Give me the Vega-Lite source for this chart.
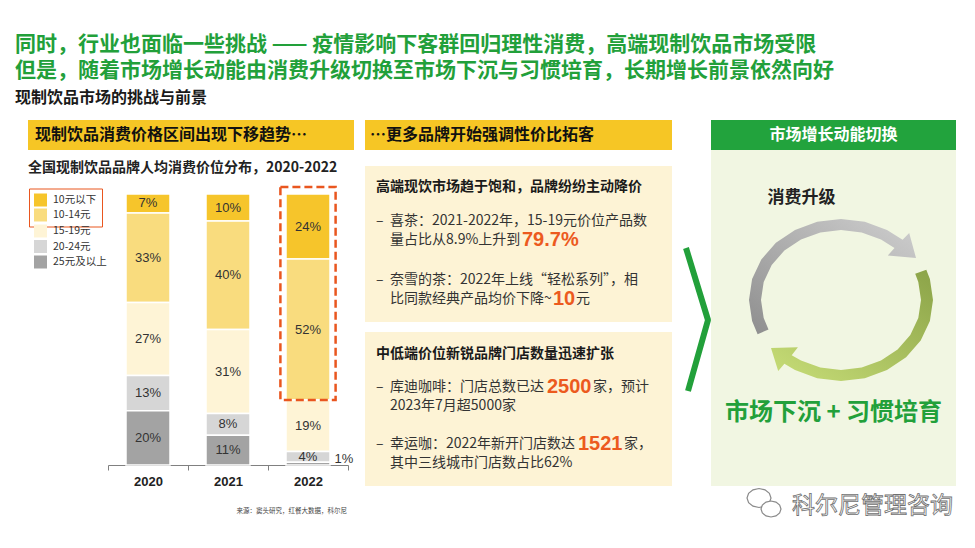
{
  "$schema": "https://vega.github.io/schema/vega-lite/v6.json",
  "background": "white",
  "padding": {"left": 15, "top": 34, "right": 5, "bottom": 5},
  "spacing": 11,
  "title": {
    "text": ["同时，行业也面临一些挑战 —— 疫情影响下客群回归理性消费，高端现制饮品市场受限", "但是，随着市场增长动能由消费升级切换至市场下沉与习惯培育，长期增长前景依然向好"],
    "subtitle": "现制饮品市场的挑战与前景",
    "anchor": "start", "frame": "group", "dx": -13,
    "fontSize": 21, "fontWeight": "bold", "color": "#22A03A", "lineHeight": 26,
    "subtitleFontSize": 16, "subtitleFontWeight": "bold", "subtitleColor": "#1a1a1a", "subtitlePadding": 9,
    "offset": 14
  },
  "datasets": {
    "shares": [
      {"year": "2020", "band": "10元以下", "lo": 0, "pct": 0.07},
      {"year": "2020", "band": "10-14元", "lo": 10, "pct": 0.33},
      {"year": "2020", "band": "15-19元", "lo": 15, "pct": 0.27},
      {"year": "2020", "band": "20-24元", "lo": 20, "pct": 0.13},
      {"year": "2020", "band": "25元及以上", "lo": 25, "pct": 0.20},
      {"year": "2021", "band": "10元以下", "lo": 0, "pct": 0.10},
      {"year": "2021", "band": "10-14元", "lo": 10, "pct": 0.40},
      {"year": "2021", "band": "15-19元", "lo": 15, "pct": 0.31},
      {"year": "2021", "band": "20-24元", "lo": 20, "pct": 0.08},
      {"year": "2021", "band": "25元及以上", "lo": 25, "pct": 0.11},
      {"year": "2022", "band": "10元以下", "lo": 0, "pct": 0.24},
      {"year": "2022", "band": "10-14元", "lo": 10, "pct": 0.52},
      {"year": "2022", "band": "15-19元", "lo": 15, "pct": 0.19},
      {"year": "2022", "band": "20-24元", "lo": 20, "pct": 0.04},
      {"year": "2022", "band": "25元及以上", "lo": 25, "pct": 0.01}
    ]
  },
  "hconcat": [
    {
      "spacing": 10,
      "vconcat": [
        {
          "width": 326, "height": 30,
          "view": {"fill": "#F6C625", "stroke": null},
          "data": {"values": [{"t": "现制饮品消费价格区间出现下移趋势…"}]},
          "mark": {"type": "text", "align": "left", "x": 7, "fontSize": 16, "fontWeight": "bold", "color": "#111"},
          "encoding": {"text": {"field": "t"}}
        },
        {
          "width": 326, "height": 271,
          "title": {"text": "全国现制饮品品牌人均消费价位分布，2020-2022", "anchor": "start", "frame": "group", "fontSize": 14, "fontWeight": "bold", "color": "#222", "offset": 11},
          "data": {"name": "shares"},
          "layer": [
            {
              "transform": [{"stack": "pct", "groupby": ["year"], "sort": [{"field": "lo", "order": "descending"}], "as": ["y0", "y1"]}],
              "mark": {"type": "bar", "width": {"band": 0.55}, "stroke": "#ffffff", "strokeWidth": 1.5},
              "encoding": {
                "x": {
                  "field": "year", "type": "nominal",
                  "scale": {"range": [80, 320], "paddingInner": 0, "paddingOuter": 0},
                  "axis": {
                    "title": "来源：窦头研究，红餐大数据，科尔尼", "titleFontSize": 6.5, "titleFontWeight": "normal", "titleColor": "#444",
                    "titleX": 208, "titleY": 45, "titleAlign": "left", "titleBaseline": "middle",
                    "labelFontSize": 13, "labelFontWeight": "bold", "labelColor": "#222", "labelFont": "Liberation Sans",
                    "labelPadding": 5, "labelAngle": 0, "tickBand": "extent", "tickSize": 5,
                    "tickColor": "#808080", "domainColor": "#808080", "grid": false
                  }
                },
                "y": {"field": "y1", "type": "quantitative", "scale": {"domain": [0, 1], "nice": false}, "axis": null},
                "y2": {"field": "y0"},
                "color": {
                  "field": "band", "type": "nominal",
                  "scale": {"domain": ["10元以下", "10-14元", "15-19元", "20-24元", "25元及以上"], "range": ["#F6C52B", "#F9DC7E", "#FEF4D6", "#D6D6D6", "#A3A3A3"]},
                  "legend": null
                }
              }
            },
            {
              "transform": [
                {"filter": "datum.year == '2022' && datum.lo >= 15"},
                {"aggregate": [{"op": "sum", "field": "pct", "as": "base"}], "groupby": ["year"]}
              ],
              "mark": {"type": "bar", "width": {"band": 0.69}, "fillOpacity": 0, "stroke": "#E9561F", "strokeWidth": 2.5, "strokeDash": [8, 4]},
              "encoding": {
                "x": {"field": "year", "type": "nominal"},
                "y": {"field": "base", "type": "quantitative"},
                "y2": {"datum": 1.026}
              }
            },
            {
              "transform": [
                {"stack": "pct", "groupby": ["year"], "sort": [{"field": "lo", "order": "descending"}], "as": ["y0", "y1"]},
                {"fold": ["y0", "y1"], "as": ["edge", "v"]},
                {"aggregate": [{"op": "mean", "field": "v", "as": "mid"}], "groupby": ["year", "band", "pct"]}
              ],
              "mark": {"type": "text", "fontSize": 13, "color": "#333", "font": "Liberation Sans"},
              "encoding": {
                "x": {"field": "year", "type": "nominal"},
                "y": {"field": "mid", "type": "quantitative"},
                "text": {"field": "pct", "type": "quantitative", "format": ".0%", "condition": {"test": "datum.pct < 0.02", "value": ""}}
              }
            },
            {
              "transform": [
                {"stack": "pct", "groupby": ["year"], "sort": [{"field": "lo", "order": "descending"}], "as": ["y0", "y1"]},
                {"fold": ["y0", "y1"], "as": ["edge", "v"]},
                {"aggregate": [{"op": "mean", "field": "v", "as": "mid"}], "groupby": ["year", "band", "pct"]}
              ],
              "mark": {"type": "text", "fontSize": 13, "color": "#333", "font": "Liberation Sans", "dx": 36, "dy": -5},
              "encoding": {
                "x": {"field": "year", "type": "nominal"},
                "y": {"field": "mid", "type": "quantitative"},
                "text": {"field": "pct", "type": "quantitative", "format": ".0%", "condition": {"test": "datum.pct >= 0.02", "value": ""}}
              }
            },
            {
              "transform": [{"filter": "datum.lo <= 10"}],
              "mark": {"type": "square", "opacity": 0, "filled": true},
              "encoding": {
                "color": {
                  "field": "band", "type": "nominal",
                  "scale": {"domain": ["10元以下", "10-14元"], "range": ["#F6C52B", "#F9DC7E"]},
                  "legend": {
                    "orient": "none", "legendX": 1, "legendY": -5.5, "padding": 5, "title": null,
                    "strokeColor": "#E9561F",
                    "symbolType": "square", "symbolSize": 169, "symbolOpacity": 1, "symbolStrokeWidth": 0,
                    "labelFontSize": 10.5, "labelColor": "#333", "labelOffset": 6, "rowPadding": 2
                  }
                }
              }
            },
            {
              "transform": [{"filter": "datum.lo >= 15"}],
              "mark": {"type": "square", "opacity": 0, "filled": true},
              "encoding": {
                "color": {
                  "field": "band", "type": "nominal",
                  "scale": {"domain": ["15-19元", "20-24元", "25元及以上"], "range": ["#FEF4D6", "#D6D6D6", "#A3A3A3"]},
                  "legend": {
                    "orient": "none", "legendX": 1, "legendY": 25.5, "padding": 5, "title": null,
                    "symbolType": "square", "symbolSize": 169, "symbolOpacity": 1, "symbolStrokeWidth": 0,
                    "labelFontSize": 10.5, "labelColor": "#333", "labelOffset": 6, "rowPadding": 2.5
                  }
                }
              }
            }
          ],
          "resolve": {"scale": {"color": "independent"}, "legend": {"color": "independent"}}
        }
      ]
    },
    {
      "spacing": 16,
      "vconcat": [
        {
          "width": 307, "height": 30,
          "view": {"fill": "#F6C625", "stroke": null},
          "data": {"values": [{"t": "…更多品牌开始强调性价比拓客"}]},
          "mark": {"type": "text", "align": "left", "x": 5, "fontSize": 16, "fontWeight": "bold", "color": "#111"},
          "encoding": {"text": {"field": "t"}}
        },
        {
          "spacing": 10,
          "vconcat": [
            {
              "width": 307, "height": 156,
              "view": {"fill": "#FDF3D5", "stroke": null},
              "title": {"text": "高端现饮市场趋于饱和，品牌纷纷主动降价", "anchor": "start", "frame": "group", "dx": 11, "offset": -28, "fontSize": 14, "fontWeight": "bold", "color": "#1a1a1a"},
              "data": {"values": [
                {"row": "喜茶-1", "t": "喜茶：2021-2022年，15-19元价位产品数"},
                {"row": "喜茶-2", "t": "量占比从8.9%上升到"},
                {"row": "奈雪的茶-1", "t": "奈雪的茶：2022年上线“轻松系列”，相"},
                {"row": "奈雪的茶-2", "t": "比同款经典产品均价下降~"}
              ]},
              "encoding": {
                "y": {"field": "row", "type": "nominal", "axis": null, "scale": {"domain": ["喜茶-1", "喜茶-2", " ", "奈雪的茶-1", "奈雪的茶-2"], "paddingInner": 0, "paddingOuter": 0, "range": [45, 143]}}
              },
              "layer": [
                {"transform": [{"filter": "indexof(datum.row, '-1') > 0"}], "mark": {"type": "text", "align": "left", "x": 11, "fontSize": 14, "color": "#333"}, "encoding": {"text": {"value": "–"}}},
                {"mark": {"type": "text", "align": "left", "x": 25, "fontSize": 14, "color": "#333"}, "encoding": {"text": {"field": "t"}}},
                {"data": {"values": [{"row": "喜茶-2", "h": "79.7%"}]}, "mark": {"type": "text", "align": "left", "x": 157, "fontSize": 20, "fontWeight": "bold", "font": "Liberation Sans", "color": "#EC5A1E"}, "encoding": {"text": {"field": "h"}}},
                {"data": {"values": [{"row": "奈雪的茶-2", "h": "10"}]}, "mark": {"type": "text", "align": "left", "x": 188, "fontSize": 20, "fontWeight": "bold", "font": "Liberation Sans", "color": "#EC5A1E"}, "encoding": {"text": {"field": "h"}}},
                {"data": {"values": [{"row": "奈雪的茶-2", "t": "元"}]}, "mark": {"type": "text", "align": "left", "x": 211, "fontSize": 14, "color": "#333"}, "encoding": {"text": {"field": "t"}}}
              ]
            },
            {
              "width": 307, "height": 154,
              "view": {"fill": "#FDF3D5", "stroke": null},
              "title": {"text": "中低端价位新锐品牌门店数量迅速扩张", "anchor": "start", "frame": "group", "dx": 11, "offset": -29, "fontSize": 14, "fontWeight": "bold", "color": "#1a1a1a"},
              "data": {"values": [
                {"row": "库迪咖啡-1", "t": "库迪咖啡：门店总数已达"},
                {"row": "库迪咖啡-2", "t": "2023年7月超5000家"},
                {"row": "幸运咖-1", "t": "幸运咖：2022年新开门店数达"},
                {"row": "幸运咖-2", "t": "其中三线城市门店数占比62%"}
              ]},
              "encoding": {
                "y": {"field": "row", "type": "nominal", "axis": null, "scale": {"domain": ["库迪咖啡-1", "库迪咖啡-2", " ", "幸运咖-1", "幸运咖-2"], "paddingInner": 0, "paddingOuter": 0, "range": [45, 141]}}
              },
              "layer": [
                {"transform": [{"filter": "indexof(datum.row, '-1') > 0"}], "mark": {"type": "text", "align": "left", "x": 11, "fontSize": 14, "color": "#333"}, "encoding": {"text": {"value": "–"}}},
                {"mark": {"type": "text", "align": "left", "x": 25, "fontSize": 14, "color": "#333"}, "encoding": {"text": {"field": "t"}}},
                {"data": {"values": [{"row": "库迪咖啡-1", "h": "2500"}]}, "mark": {"type": "text", "align": "left", "x": 182, "fontSize": 20, "fontWeight": "bold", "font": "Liberation Sans", "color": "#EC5A1E"}, "encoding": {"text": {"field": "h"}}},
                {"data": {"values": [{"row": "库迪咖啡-1", "t": "家，预计"}]}, "mark": {"type": "text", "align": "left", "x": 228, "fontSize": 14, "color": "#333"}, "encoding": {"text": {"field": "t"}}},
                {"data": {"values": [{"row": "幸运咖-1", "h": "1521"}]}, "mark": {"type": "text", "align": "left", "x": 213, "fontSize": 20, "fontWeight": "bold", "font": "Liberation Sans", "color": "#EC5A1E"}, "encoding": {"text": {"field": "h"}}},
                {"data": {"values": [{"row": "幸运咖-1", "t": "家，"}]}, "mark": {"type": "text", "align": "left", "x": 259, "fontSize": 14, "color": "#333"}, "encoding": {"text": {"field": "t"}}}
              ]
            }
          ]
        }
      ]
    },
    {
      "spacing": -11,
      "hconcat": [
        {
          "width": 2, "height": 366,
          "data": {"values": [{"k": "arrow"}]},
          "mark": {"type": "point", "shape": "M0.02,-0.55L0.24,0.17L0.04,0.88", "size": 40000, "filled": false, "stroke": "#22A03A", "strokeWidth": 6, "strokeJoin": "bevel", "opacity": 1},
          "encoding": {}
        },
        {
          "spacing": 0,
          "vconcat": [
            {
              "width": 245, "height": 30,
              "view": {"fill": "#22A33D", "stroke": null},
              "data": {"values": [{"t": "市场增长动能切换"}]},
              "mark": {"type": "text", "fontSize": 16, "fontWeight": "bold", "color": "#ffffff"},
              "encoding": {"text": {"field": "t"}}
            },
            {
              "width": 245, "height": 336,
              "view": {"fill": "#F1F6E2", "stroke": null},
              "data": {"values": [{"top": "消费升级", "bottom": "市场下沉 + 习惯培育"}]},
              "layer": [
                {
                  "mark": {
                    "type": "point", "size": 40000, "filled": true, "strokeWidth": 0, "opacity": 1,
                    "shape": "M-0.759,0.162L-0.814,0.03L-0.845,-0.18L-0.814,-0.39L-0.722,-0.585L-0.576,-0.753L-0.385,-0.881L-0.163,-0.962L0.075,-0.99L0.313,-0.962L0.535,-0.881L0.691,-0.782L0.757,-0.849L0.825,-0.6L0.543,-0.626L0.61,-0.7L0.475,-0.786L0.282,-0.856L0.075,-0.88L-0.132,-0.856L-0.325,-0.786L-0.491,-0.675L-0.618,-0.53L-0.698,-0.361L-0.725,-0.18L-0.698,0.001L-0.65,0.116Z",
                    "fill": {"gradient": "linear", "x1": 0, "y1": 1, "x2": 1, "y2": 0, "stops": [{"offset": 0, "color": "#8E8E8E"}, {"offset": 1, "color": "#CFCFCF"}]}
                  },
                  "encoding": {}
                },
                {
                  "mark": {
                    "type": "point", "size": 40000, "filled": true, "strokeWidth": 0, "opacity": 1,
                    "shape": "M0.928,-0.483L0.964,-0.39L0.995,-0.18L0.964,0.03L0.872,0.225L0.726,0.393L0.535,0.521L0.313,0.602L0.075,0.63L-0.163,0.602L-0.385,0.521L-0.491,0.458L-0.553,0.529L-0.625,0.3L-0.356,0.293L-0.418,0.372L-0.325,0.426L-0.132,0.496L0.075,0.52L0.282,0.496L0.475,0.426L0.641,0.315L0.768,0.17L0.848,0.001L0.875,-0.18L0.848,-0.361L0.817,-0.442Z",
                    "fill": {"gradient": "linear", "x1": 1, "y1": 0, "x2": 0, "y2": 1, "stops": [{"offset": 0, "color": "#8BA348"}, {"offset": 1, "color": "#C8DE78"}]}
                  },
                  "encoding": {}
                },
                {"mark": {"type": "text", "fontSize": 17, "fontWeight": "bold", "color": "#222", "dx": -32, "dy": -120}, "encoding": {"text": {"field": "top"}}},
                {"mark": {"type": "text", "fontSize": 24, "fontWeight": "bold", "color": "#22A03A", "dy": 95}, "encoding": {"text": {"field": "bottom"}}}
              ]
            },
            {
              "width": 245, "height": 36,
              "data": {"values": [{"name": "科尔尼管理咨询"}]},
              "layer": [
                {"mark": {"type": "point", "size": 40000, "filled": true, "fill": "#ffffff", "stroke": "#8a8a8a", "strokeWidth": 1.2, "opacity": 1, "shape": "M-0.625,-0.08L-0.641,-0.0325L-0.685,0.002L-0.745,0.015L-0.805,0.002L-0.849,-0.0325L-0.865,-0.08L-0.849,-0.1275L-0.805,-0.162L-0.745,-0.175L-0.685,-0.162L-0.641,-0.1275Z"}, "encoding": {}},
                {"mark": {"type": "point", "size": 40000, "filled": true, "fill": "#ffffff", "stroke": "#8a8a8a", "strokeWidth": 1.2, "opacity": 1, "shape": "M-0.525,0.03L-0.5384,0.07L-0.575,0.0993L-0.625,0.11L-0.675,0.0993L-0.7116,0.07L-0.725,0.03L-0.7116,-0.01L-0.675,-0.0393L-0.625,-0.05L-0.575,-0.0393L-0.5384,-0.01Z"}, "encoding": {}},
                {"mark": {"type": "text", "align": "right", "dx": 119.5, "fontSize": 23, "fill": "#ffffff", "stroke": "#707070", "strokeWidth": 0.8}, "encoding": {"text": {"field": "name"}}}
              ]
            }
          ]
        }
      ]
    }
  ],
  "config": {
    "font": "Noto Sans CJK SC",
    "view": {"stroke": null},
    "title": {"font": "Noto Sans CJK SC", "subtitleFont": "Noto Sans CJK SC"},
    "legend": {"labelFont": "Noto Sans CJK SC"}
  }
}
